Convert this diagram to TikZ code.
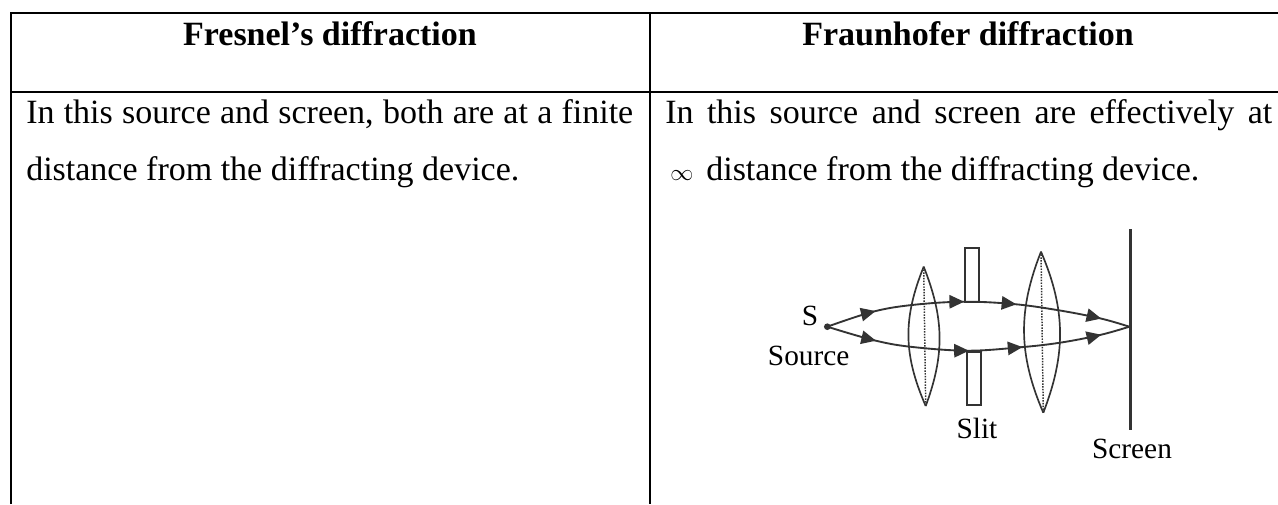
\documentclass[tikz,border=0pt]{standalone}
\usepackage{fontspec}
\setmainfont{Liberation Serif}
\usetikzlibrary{decorations.markings,arrows.meta}
\definecolor{ink}{HTML}{333333}
\tikzset{
  rule/.style={draw=black,line width=1.7pt},
  celltext/.style={font=\fontsize{25.5}{26}\selectfont,anchor=base west,inner sep=0pt,text=black},
  headtext/.style={font=\fontsize{25.5}{26}\selectfont\bfseries,anchor=base,inner sep=0pt,text=black},
  figtext/.style={font=\fontsize{22}{23}\selectfont,anchor=base,inner sep=0pt,text=black},
  optic/.style={draw=ink,line width=1.25pt},
  axisdot/.style={draw=ink,line width=1.1pt,densely dotted},
  raypath/.style={draw=ink,line width=1.4pt,smooth,tension=0.6},
  upperray/.style={raypath,postaction={decorate,decoration={markings,
     mark=at position 0.165 with {\arrow{Triangle[length=11pt,width=10pt]}},
     mark=at position 0.455 with {\arrow{Triangle[length=11pt,width=10pt]}},
     mark=at position 0.625 with {\arrow{Triangle[length=11pt,width=10pt]}},
     mark=at position 0.905 with {\arrow{Triangle[length=11pt,width=10pt]}}}}},
  lowerray/.style={raypath,postaction={decorate,decoration={markings,
     mark=at position 0.165 with {\arrow{Triangle[length=11pt,width=10pt]}},
     mark=at position 0.47 with {\arrow{Triangle[length=11pt,width=10pt]}},
     mark=at position 0.645 with {\arrow{Triangle[length=11pt,width=10pt]}},
     mark=at position 0.905 with {\arrow{Triangle[length=11pt,width=10pt]}}}}},
}
\begin{document}
\begin{tikzpicture}[x=0.75pt,y=-0.75pt]
\useasboundingbox (0,0) rectangle (1278,504);
\fill[white] (0,0) rectangle (1278,504);
% table
\coordinate (tl) at (11,13);
\coordinate (tr) at (1278,13);
\coordinate (hl) at (11,92);
\coordinate (hr) at (1278,92);
\coordinate (bl) at (11,504);
\coordinate (tm) at (650,13);
\coordinate (bm) at (650,504);
\draw[rule] (bl) -- (tl) -- (tr);
\draw[rule] (hl) -- (hr);
\draw[rule] (tm) -- (bm);
\node[headtext] (h1) at (330,45) {Fresnel’s diffraction};
\node[headtext] (h2) at (968,45) {Fraunhofer diffraction};
\node[celltext] (a1) at (26,123) {\makebox[455.25pt][s]{In this source and screen, both are at a finite}};
\node[celltext] (a2) at (26,180) {distance from the diffracting device.};
\node[celltext] (b1) at (665,123) {\makebox[455.25pt][s]{In this source and screen are effectively at}};
\node[celltext] (b2) at (670,180) {{\fontsize{19}{20}\selectfont$\infty$}\hspace{9.75pt}distance from the diffracting device.};
% figure
\node[circle,fill=ink,minimum size=5pt,inner sep=0pt] (src) at (827.3,326.7) {};
\coordinate (hit) at (1129.3,326.7);
\node[figtext] (lblS) at (810,325) {S};
\node[figtext] (lblSource) at (808.7,365) {Source};
\node[figtext] (lblSlit) at (977,438) {Slit};
\node[figtext] (lblScreen) at (1132,458) {Screen};
\coordinate (scrtop) at (1130.3,229.3);
\coordinate (scrbot) at (1130.3,429.7);
\draw[draw=ink,line width=2pt] (scrtop) -- (scrbot);
\draw[optic] (965.3,248.3) rectangle (979.3,301.7);
\draw[optic] (967,351.7) rectangle (980.7,405);
\coordinate (l1t) at (923.7,266.7);
\coordinate (l1b) at (925.7,406);
\draw[optic] (l1t) .. controls (903,318) and (903,354) .. (l1b);
\draw[optic] (l1t) .. controls (944,318) and (945,354) .. (l1b);
\draw[axisdot] (l1t) -- (l1b);
\coordinate (l2t) at (1041,251.7);
\coordinate (l2b) at (1043.3,412.7);
\draw[optic] (l2t) .. controls (1018,310) and (1018,354) .. (l2b);
\draw[optic] (l2t) .. controls (1066,310) and (1066,354) .. (l2b);
\draw[axisdot] (l2t) -- (l2b);
\draw[upperray] plot coordinates {(src.center) (873,311.7) (912,305) (963,301.7) (1013,304) (1057,310) (1100,318.3) (hit)};
\draw[lowerray] plot coordinates {(src.center) (873,340) (910,346.7) (967,350.7) (1020,347.3) (1060,342.7) (1100,335) (hit)};
\end{tikzpicture}
\end{document}
